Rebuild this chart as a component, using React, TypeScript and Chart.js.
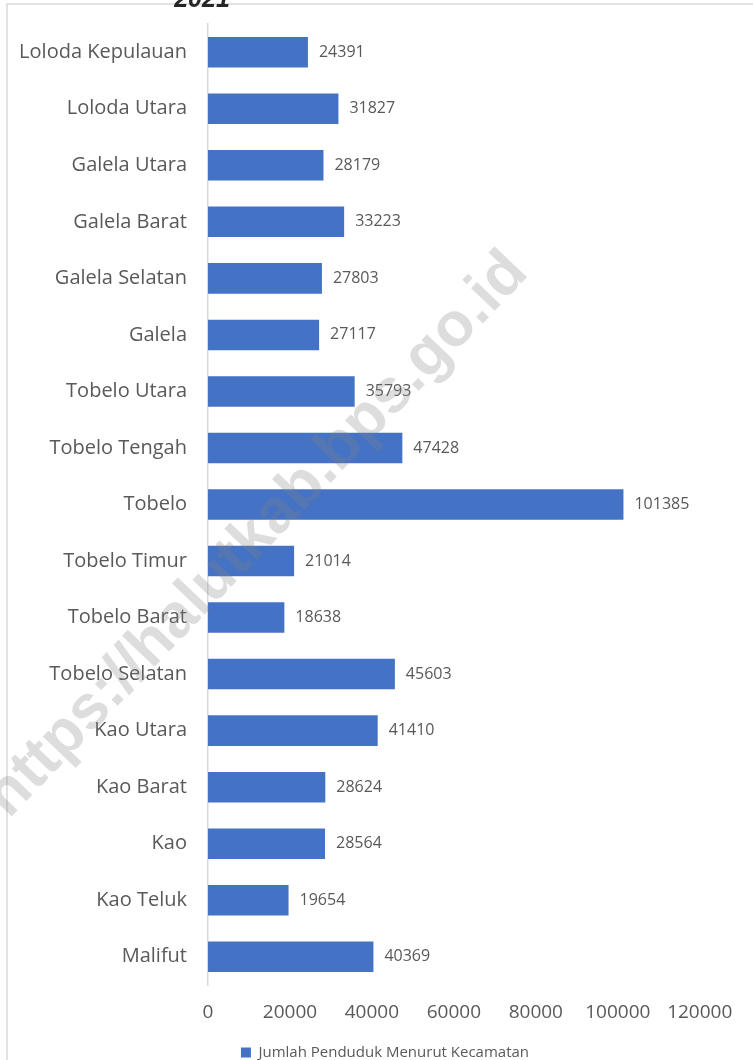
import React, { useEffect, useRef } from "react";
import { Chart, registerables } from "chart.js";

Chart.register(...registerables);

const categories = [
  "Loloda Kepulauan",
  "Loloda Utara",
  "Galela Utara",
  "Galela Barat",
  "Galela Selatan",
  "Galela",
  "Tobelo Utara",
  "Tobelo Tengah",
  "Tobelo",
  "Tobelo Timur",
  "Tobelo Barat",
  "Tobelo Selatan",
  "Kao Utara",
  "Kao Barat",
  "Kao",
  "Kao Teluk",
  "Malifut",
];

const population = [
  24391, 31827, 28179, 33223, 27803, 27117, 35793, 47428, 101385, 21014, 18638,
  45603, 41410, 28624, 28564, 19654, 40369,
];

const seriesLabel = "Jumlah Penduduk Menurut Kecamatan";
const titleText = "2021";
const watermarkText = "https://halutkab.bps.go.id";
const tickValues = [0, 20000, 40000, 60000, 80000, 100000, 120000];

const FONT = "'Open Sans', sans-serif";
const GRAY = "#595959";

const decorPlugin = {
  id: "decor",
  beforeDraw(chart: any) {
    const ctx = chart.ctx;
    ctx.save();
    ctx.strokeStyle = "#d9d9d9";
    ctx.lineWidth = 1.5;
    ctx.beginPath();
    ctx.moveTo(7, chart.height + 5);
    ctx.lineTo(7, 4);
    ctx.lineTo(chart.width + 5, 4);
    ctx.stroke();
    ctx.fillStyle = "#262626";
    ctx.font = "italic bold 25px 'Liberation Sans', Arial, sans-serif";
    ctx.textAlign = "center";
    ctx.textBaseline = "alphabetic";
    ctx.fillText(titleText, 202, 7);
    ctx.restore();
  },
  afterDatasetsDraw(chart: any) {
    const ctx = chart.ctx;
    const meta = chart.getDatasetMeta(0);
    const data = chart.data.datasets[0].data;
    ctx.save();
    ctx.fillStyle = GRAY;
    ctx.font = `16px ${FONT}`;
    ctx.textAlign = "left";
    ctx.textBaseline = "middle";
    meta.data.forEach((bar: any, i: number) => {
      ctx.fillText(String(data[i]), bar.x + 11, bar.y);
    });
    ctx.restore();
  },
  afterDraw(chart: any) {
    const ctx = chart.ctx;
    ctx.save();
    ctx.translate(257, 535);
    ctx.rotate((-46.3 * Math.PI) / 180);
    ctx.font = "bold 62px 'Liberation Sans', Arial, sans-serif";
    ctx.fillStyle = "rgba(128,128,128,0.27)";
    ctx.textAlign = "center";
    ctx.textBaseline = "middle";
    ctx.fillText(watermarkText, 0, 0);
    ctx.restore();
  },
};

export default function App() {
  const canvasRef = useRef<HTMLCanvasElement | null>(null);

  useEffect(() => {
    if (!canvasRef.current) return;
    const chart = new Chart(canvasRef.current, {
      type: "bar",
      data: {
        labels: categories,
        datasets: [
          {
            label: seriesLabel,
            data: population,
            backgroundColor: "#4472C4",
            borderWidth: 0,
            barPercentage: 0.54,
            categoryPercentage: 1,
          },
        ],
      },
      plugins: [decorPlugin],
      options: {
        indexAxis: "y",
        animation: false,
        responsive: false,
        maintainAspectRatio: false,
        layout: { padding: { top: 24, left: 17, right: 0, bottom: -10 } },
        plugins: {
          title: { display: false },
          tooltip: { enabled: false },
          legend: {
            position: "bottom",
            labels: {
              color: GRAY,
              font: { family: FONT, size: 15 },
              boxWidth: 10,
              boxHeight: 10,
              padding: 10,
            },
          },
        },
        scales: {
          x: {
            min: 0,
            max: 133000,
            grid: { display: false, drawTicks: false },
            border: { display: false },
            ticks: {
              color: GRAY,
              font: { family: FONT, size: 19 },
              padding: 16,
              maxRotation: 0,
              autoSkip: false,
              callback: (v: any) => String(v),
            },
            afterBuildTicks(scale: any) {
              scale.ticks = tickValues.map((value) => ({ value }));
            },
            afterFit(scale: any) {
              scale.height = 50;
              scale.paddingLeft = 0;
              scale.paddingRight = 0;
            },
          },
          y: {
            grid: { display: false, drawTicks: false },
            border: { display: true, color: "#d9d9d9", width: 1.5 },
            ticks: {
              color: GRAY,
              font: { family: FONT, size: 20 },
              padding: 21,
              autoSkip: false,
            },
            afterFit(scale: any) {
              scale.width = 191;
              scale.paddingTop = 0;
              scale.paddingBottom = 0;
            },
          },
        },
      },
    });
    return () => chart.destroy();
  }, []);

  return (
    <div
      style={{
        position: "fixed",
        top: 0,
        left: 0,
        width: 753,
        height: 1060,
        background: "#ffffff",
      }}
    >
      <canvas ref={canvasRef} width={753} height={1060} style={{ width: 753, height: 1060 }} />
    </div>
  );
}
